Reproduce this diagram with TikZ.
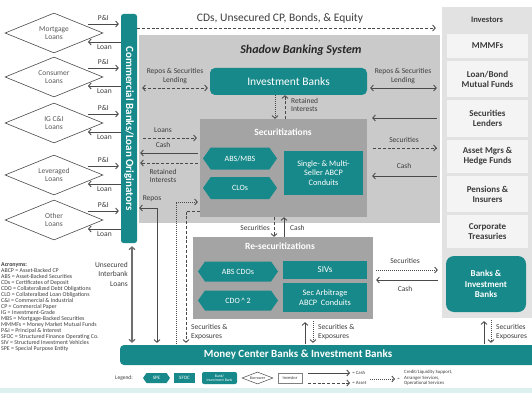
\documentclass[tikz,border=0pt]{standalone}
\usepackage{fontspec}
\setmainfont{Carlito}
\usetikzlibrary{arrows.meta,shapes.geometric,shapes.symbols,calc}

\definecolor{bankteal}{HTML}{17898A}
\definecolor{shadowgrey}{HTML}{CACACA}
\definecolor{vehiclegrey}{HTML}{A4A4A4}
\definecolor{panelgrey}{HTML}{E2E2E2}
\definecolor{cellgrey}{HTML}{F4F4F4}
\definecolor{inkgrey}{HTML}{4A4A4A}
\definecolor{textgrey}{HTML}{3C3C3C}
\definecolor{footcyan}{HTML}{DCF0F0}

\newcommand{\fsz}[2]{\fontsize{#1}{#2}\selectfont}

\begin{document}
\begin{tikzpicture}[x=1pt,y=-1pt,
  >={Straight Barb[length=2.6pt,width=6pt]},
  cash/.style={draw=inkgrey,line width=0.9pt,->},
  asset/.style={cash,dash pattern=on 3pt off 1.8pt},
  support/.style={cash,dash pattern=on 1pt off 1pt},
  interbank/.style={draw=inkgrey!80,line width=1.3pt},
  lbl/.style={font=\fsz{7.5}{8.5},text=textgrey,inner sep=0pt,align=center},
  tealbox/.style={fill=bankteal,text=white,inner sep=0pt,align=center},
  spe/.style={tealbox,signal,signal to=east and west,signal pointer angle=110},
  borrower/.style={diamond,aspect=2.45,draw=inkgrey,line width=0.6pt,fill=white,inner sep=0pt,
    minimum width=98pt,minimum height=40pt,font=\fsz{7.5}{8.5},text=textgrey!85,align=center},
  cell/.style={fill=cellgrey,inner sep=0pt,minimum width=81pt,font=\bfseries\fsz{9}{10},text=textgrey,align=center},
]
\useasboundingbox (0,0) rectangle (532,393);

% ---- background areas ----
\fill[footcyan] (0,388) rectangle (532,393);
\node[fill=shadowgrey,minimum width=301pt,minimum height=188pt,inner sep=0pt] (sbs) at (289.5,129) {};
\node[fill=panelgrey,minimum width=91pt,minimum height=311pt,inner sep=0pt] (inv) at (487.5,162.5) {};

% ---- investors column ----
\node[font=\bfseries\fsz{8.5}{9},text=textgrey] (invhead) at (487,20) {Investors};
\node[cell,minimum height=24pt] (mmmf) at (487.5,46) {MMMFs};
\node[cell,minimum height=36pt] (lbmf) at (487.5,79) {Loan/Bond\\Mutual Funds};
\node[cell,minimum height=37pt] (seclend) at (487.5,118.5) {Securities\\Lenders};
\node[cell,minimum height=33pt] (amhf) at (487.5,156.5) {Asset Mgrs \&\\Hedge Funds};
\node[cell,minimum height=36pt] (pens) at (487.5,194) {Pensions \&\\Insurers};
\node[cell,minimum height=33pt] (corp) at (487.5,231.5) {Corporate\\Treasuries};
\node[tealbox,rounded corners=8pt,minimum width=80pt,minimum height=56pt,font=\bfseries\fsz{9}{10.5}] (bib) at (486,284) {Banks \&\\Investment\\Banks};

% ---- originators ----
\node[tealbox,rounded corners=2.5pt,minimum width=16pt,minimum height=229pt] (cb) at (129,128.5)
  {\rotatebox{-90}{\bfseries\fsz{11}{11}Commercial Banks/Loan Originators}};

\foreach \i/\c/\t in {1/33/Mortgage,2/77/Consumer,3/123/IG C\&I,4/175/Leveraged,5/220/Other}{
  \node[borrower] (d\i) at (54,\c) {\t\\Loans};
  \coordinate (pi\i) at ($(d\i.center)+(34,-9)$);
  \coordinate (ln\i) at ($(d\i.center)+(34,9)$);
  \draw[cash] (pi\i) -- ($(pi\i -| cb.west)+(-2,0)$) node[lbl,midway,above=2.5pt] (pl\i) {P\&I};
  \draw[cash] (ln\i -| cb.west) -- (ln\i) node[lbl,midway,below=2.5pt] (ll\i) {Loan};
}

% ---- shadow banking system ----
\draw[asset] (cb.east |- 0,28) -- ($(inv.west |- 0,28)+(-6,0)$);
\node[lbl,font=\fsz{11.5}{12}] (cdlbl) at (280,18) {CDs, Unsecured CP, Bonds, \& Equity};
\node[font=\bfseries\itshape\fsz{12}{13},text=black!85] (sbstitle) at (301,50) {Shadow Banking System};

\node[tealbox,rounded corners=5pt,minimum width=157pt,minimum height=27pt,font=\fsz{11.5}{12}] (ib) at (288.5,81.5) {Investment Banks};

\node[fill=vehiclegrey,minimum width=167pt,minimum height=98pt,inner sep=0pt] (sec) at (283.5,168) {};
\node[font=\bfseries\fsz{9.5}{10},text=white] (sectitle) at (283,132) {Securitizations};
\node[spe,minimum width=74pt,minimum height=22pt,font=\fsz{8}{9}] (absmbs) at (240,158.5) {ABS/MBS};
\node[spe,minimum width=74pt,minimum height=22pt,font=\fsz{8}{9}] (clo) at (240,188) {CLOs};
\node[tealbox,minimum width=79pt,minimum height=44pt,font=\fsz{8.3}{9.5}] (conduit) at (323.5,173) {Single- \& Multi-\\Seller ABCP\\Conduits};

\node[fill=vehiclegrey,minimum width=180pt,minimum height=82pt,inner sep=0pt] (resec) at (283,278) {};
\node[font=\bfseries\fsz{9.5}{10},text=white] (resectitle) at (280,246) {Re-securitizations};
\node[spe,minimum width=80pt,minimum height=20pt,font=\fsz{8}{9}] (abscdo) at (238,271.5) {ABS CDOs};
\node[spe,minimum width=80pt,minimum height=20pt,font=\fsz{8}{9}] (cdosq) at (238,300.5) {CDO\,\textasciicircum\,2};
\node[tealbox,minimum width=84pt,minimum height=18pt,font=\fsz{9}{10}] (siv) at (325,270) {SIVs};
\node[tealbox,minimum width=84pt,minimum height=29pt,font=\fsz{8.3}{9.5}] (secarb) at (325,297.5) {Sec Arbitrage\\ABCP\ \ Conduits};

\node[tealbox,rounded corners=4pt,minimum width=425pt,minimum height=20pt] (mcb) at (332.5,355) {};
\node[font=\bfseries\fsz{11}{11},text=white] (mcbtext) at (298,355) {Money Center Banks \& Investment Banks};

% ---- flows around the investment banks ----
\draw[asset,<->] ($(cb.east |- 0,88)+(5,0)$) -- ($(ib.west |- 0,88)+(-2,0)$);
\node[lbl] (repol) at (175,76) {Repos \& Securities\\Lending};
\draw[cash,<->] ($(ib.east |- 0,88)+(3,0)$) -- ($(inv.west |- 0,88)+(-5,0)$);
\node[lbl] (repor) at (403,76) {Repos \& Securities\\Lending};
\draw[support] (ib.south -| 275,0) -- (sec.north -| 275,0);
\draw[asset] (sec.north -| 285,0) -- (ib.south -| 285,0);
\node[lbl,anchor=west,align=left] (retib) at (291,105) {Retained\\Interests};

% ---- flows between securitizations and investors ----
\draw[cash] ($(inv.west |- 0,118)+(-5,0)$) -- ($(sec.east |- 0,118)+(5,0)$);
\draw[asset] ($(sec.east |- 0,148)+(6,0)$) -- ($(inv.west |- 0,148)+(-5,0)$);
\node[lbl] (secinv) at (404,140) {Securities};
\draw[cash] ($(inv.west |- 0,176)+(-5,0)$) -- ($(sec.east |- 0,176)+(5,0)$);
\node[lbl] (cashinv) at (404,166) {Cash};

% ---- flows between originators and securitizations ----
\draw[asset] ($(cb.east |- 0,138)+(6,0)$) -- ($(sec.west |- 0,138)+(-3,0)$);
\node[lbl] (loanslbl) at (163,130) {Loans};
\draw[cash] ($(sec.west |- 0,153)+(-2,0)$) -- ($(cb.east |- 0,153)+(3,0)$);
\node[lbl] (cashlbl) at (163,145) {Cash};
\draw[asset] ($(sec.west |- 0,163)+(-2,0)$) -- ($(cb.east |- 0,163)+(3,0)$);
\node[lbl] (retsec) at (163,176) {Retained\\Interests};

% ---- repos and interbank funding ----
\draw[cash,<->] ($(cb.east |- 0,208)+(2,0)$) -| ($(mcb.north -| 157,0)+(0,-2)$);
\node[lbl] (reposlbl) at (152,199) {Repos};
\draw[interbank,<->] ($(cb.south)+(3,3)$) -- ($(mcb.north -| 132,0)+(0,-2)$);
\node[lbl,font=\fsz{7.5}{9.5},align=right,anchor=east] (ibl) at (128,274) {Unsecured\\Interbank\\Loans};

% ---- money center banks and the vehicles ----
\draw[support] ($(mcb.north -| 176,0)+(0,-1)$) |- ($(sec.west |- 0,202)+(-2,0)$);
\draw[asset] (sec.west |- 0,211) -| ($(mcb.north -| 186,0)+(0,-2)$);
\node[lbl,anchor=west,align=left] (seex1) at (191,332) {Securities \&\\Exposures};

\draw[asset] (sec.south -| 274,0) -- (resec.north -| 274,0);
\node[lbl,anchor=east] (secrs) at (270,228) {Securities};
\draw[cash] (resec.north -| 284,0) -- (sec.south -| 284,0);
\node[lbl,anchor=west] (cashrs) at (290,228) {Cash};

\draw[support] ($(resec.east |- 0,270)+(3,0)$) -- ($(bib.west |- 0,270)+(-8,0)$);
\node[lbl] (secbib) at (405,261) {Securities};
\draw[cash] ($(bib.west |- 0,280)+(-8,0)$) -- ($(resec.east |- 0,280)+(3,0)$);
\node[lbl] (cashbib) at (405,289) {Cash};

\draw[cash] ($(mcb.north -| 305,0)+(0,-1)$) -- ($(resec.south -| 305,0)+(0,3)$);
\draw[support] ($(resec.south -| 313,0)+(0,2)$) -- ($(mcb.north -| 313,0)+(0,-2)$);
\node[lbl,anchor=west,align=left] (seex2) at (318,332) {Securities \&\\Exposures};
\draw[cash] ($(mcb.north -| 484,0)+(0,-1)$) -- ($(inv.south -| 484,0)+(0,3)$);
\draw[support] ($(inv.south -| 491,0)+(0,2)$) -- ($(mcb.north -| 491,0)+(0,-2)$);
\node[lbl,anchor=west,align=left] (seex3) at (496,332) {Securities\\Exposures};

% ---- acronyms ----
\node[anchor=north west,inner sep=0pt,font=\fsz{5.9}{6},text=textgrey,align=left] (acr) at (1,262) {%
  \textbf{Acronyms:}\\
  ABCP = Asset-Backed CP\\
  ABS = Asset-Backed Securities\\
  CDs = Certificates of Deposit\\
  CDO = Collateralized Debt Obligations\\
  CLO = Collateralized Loan Obligations\\
  C\&I = Commercial \& Industrial\\
  CP = Commercial Paper\\
  IG = Investment-Grade\\
  MBS = Mortgage-Backed Securities\\
  MMMFs = Money Market Mutual Funds\\
  P\&I = Principal \& Interest\\
  SFOC = Structured Finance Operating Co.\\
  SIV = Structured Investment Vehicles\\
  SPE = Special Purpose Entity};

% ---- legend ----
\node[lbl,font=\fsz{5.5}{6}] (leg) at (124,378) {Legend:};
\node[spe,minimum width=27pt,minimum height=10pt,font=\fsz{5}{5}] (legspe) at (156.5,378) {SPE};
\node[tealbox,minimum width=21pt,minimum height=10pt,font=\fsz{5}{5}] (legsfoc) at (184.5,378) {SFOC};
\node[tealbox,rounded corners=2pt,minimum width=35pt,minimum height=12pt,font=\fsz{3.8}{4}] (legbank) at (219.5,378) {Bank/\\Investment Bank};
\node[diamond,aspect=3,draw=inkgrey,line width=0.5pt,fill=white,minimum width=31pt,minimum height=12pt,inner sep=0pt,font=\fsz{4}{4},text=textgrey] (legbor) at (257.5,378) {Borrower};
\node[draw=inkgrey!70,line width=0.5pt,fill=white,minimum width=24pt,minimum height=10pt,inner sep=0pt,font=\fsz{4.5}{5},text=textgrey] (leginv) at (290,378) {Investor};
\coordinate (lcash) at (308,373);
\coordinate (lasset) at (308,383);
\coordinate (lsupport) at (370,379);
\draw[cash] (lcash) -- ++(42,0) node[lbl,font=\fsz{4.8}{5},anchor=west,xshift=2pt] (legcash) {= Cash};
\draw[asset] (lasset) -- ++(42,0) node[lbl,font=\fsz{4.8}{5},anchor=west,xshift=2pt] (legasset) {= Asset};
\draw[support] (lsupport) -- ++(25,0) node[lbl,font=\fsz{4.8}{5},anchor=west,xshift=2pt] (legeq) {=};
\node[lbl,font=\fsz{4.8}{5.5},anchor=west,align=left] (legsup) at (404,378) {Credit/Liquidity Support,\\Arranger Services,\\Operational Services};
\end{tikzpicture}
\end{document}
